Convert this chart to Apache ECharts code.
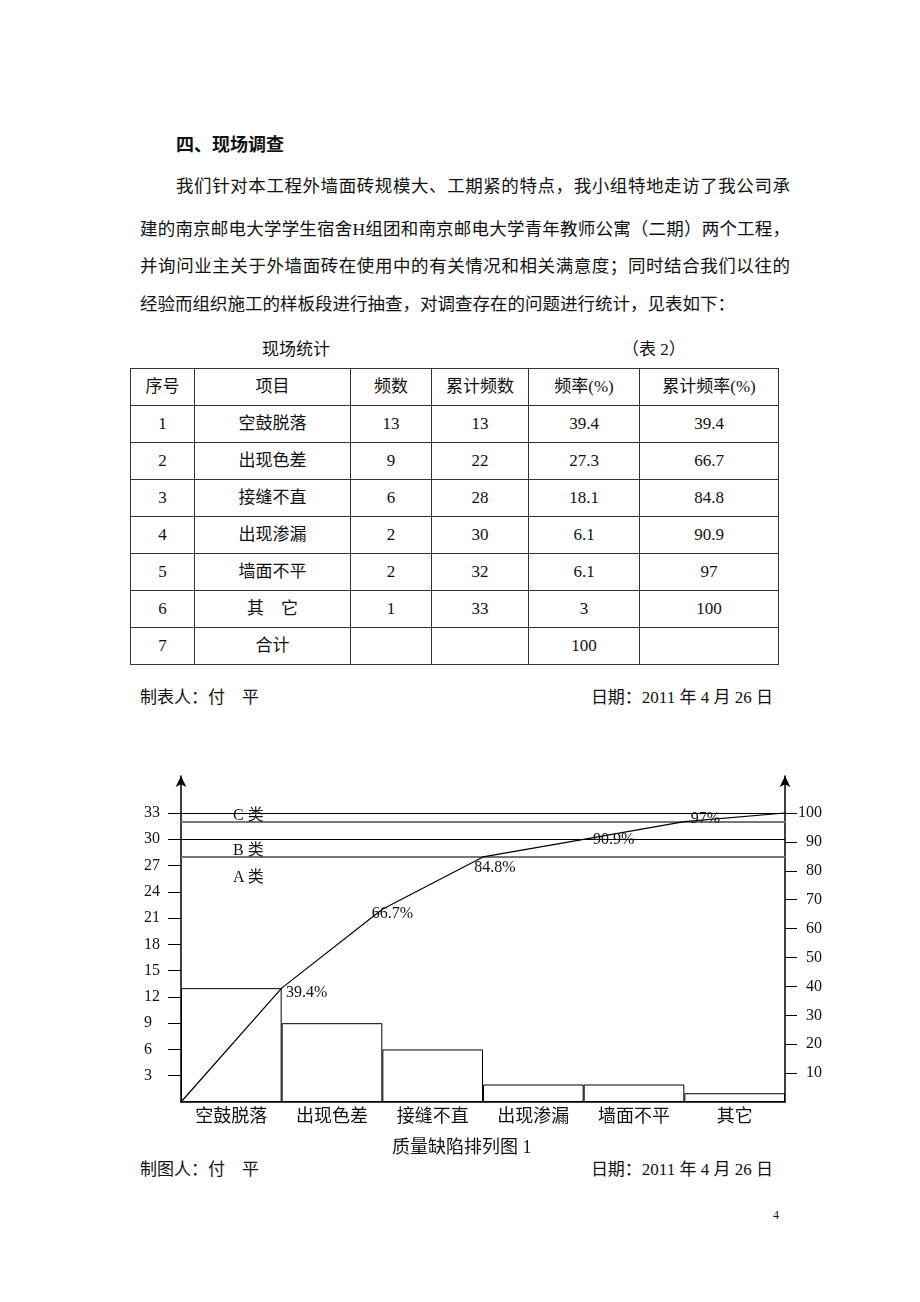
<!DOCTYPE html>
<html>
<head>
<meta charset="utf-8">
<script src="https://cdn.jsdelivr.net/npm/echarts@6/dist/echarts.min.js"></script>
<style>
  html, body { margin:0; padding:0; background:#fff; }
  body { width:920px; height:1302px; position:relative; overflow:hidden;
         font-family:"Liberation Serif","Times New Roman","Noto Sans CJK SC",serif; color:#111; }
  .t { position:absolute; font-size:18px; line-height:22px; white-space:nowrap; }
  .j { text-align:justify; text-align-last:justify; white-space:normal; font-size:17.5px; }
  #tbl { position:absolute; left:130px; top:368px; border-collapse:collapse; table-layout:fixed; }
  #tbl td { border:1px solid #333; height:36px; padding:0; text-align:center; font-size:17px; line-height:20px; }
  #chart { position:absolute; left:0; top:740px; width:920px; height:400px; }
  .ov { position:absolute; font-size:16px; line-height:18px; z-index:5; white-space:nowrap; }
</style>
</head>
<body>
<div class="t" style="left:176px; top:134px; font-weight:bold;">四、现场调查</div>
<div class="t j" style="left:176px; top:175px; width:614px;">我们针对本工程外墙面砖规模大、工期紧的特点，我小组特地走访了我公司承</div>
<div class="t j" style="left:140px; top:218px; width:650px;">建的南京邮电大学学生宿舍H组团和南京邮电大学青年教师公寓（二期）两个工程，</div>
<div class="t j" style="left:140px; top:255px; width:650px;">并询问业主关于外墙面砖在使用中的有关情况和相关满意度；同时结合我们以往的</div>
<div class="t" style="left:140px; top:293px; font-size:17.5px;">经验而组织施工的样板段进行抽查，对调查存在的问题进行统计，见表如下：</div>

<div class="t" style="left:262px; top:339px; font-size:17px;">现场统计</div>
<div class="t" style="left:622px; top:339px; font-size:17px;">（表 2）</div>
<table id="tbl"></table>

<div class="t" style="left:140px; top:687px; font-size:17px;">制表人：付　平</div>
<div class="t" style="right:147px; top:687px; font-size:17px;">日期：2011 年 4 月 26 日</div>

<div id="chart"></div>
<div class="ov" style="left:233px; top:806px;">C 类</div>
<div class="ov" style="left:233px; top:841px;">B 类</div>
<div class="ov" style="left:233px; top:868px;">A 类</div>

<div class="t" style="left:392px; top:1136px; font-size:18px;">质量缺陷排列图 1</div>
<div class="t" style="left:140px; top:1159px; font-size:17px;">制图人：付　平</div>
<div class="t" style="right:147px; top:1159px; font-size:17px;">日期：2011 年 4 月 26 日</div>

<div class="t" style="left:773px; top:1208px; font-size:12px; line-height:14px;">4</div>

<script>
// ---- data ----
const headers = ['序号', '项目', '频数', '累计频数', '频率(%)', '累计频率(%)'];
const tableItems = ['空鼓脱落', '出现色差', '接缝不直', '出现渗漏', '墙面不平', '其　它', '合计'];
const tableFreq = ['13', '9', '6', '2', '2', '1', ''];
const tableCumFreq = ['13', '22', '28', '30', '32', '33', ''];
const tablePct = ['39.4', '27.3', '18.1', '6.1', '6.1', '3', '100'];
const tableCumPct = ['39.4', '66.7', '84.8', '90.9', '97', '100', ''];

const categories = ['空鼓脱落', '出现色差', '接缝不直', '出现渗漏', '墙面不平', '其它'];
const freq = [13, 9, 6, 2, 2, 1];
const cumPct = [0, 39.4, 66.7, 84.8, 90.9, 97, 100];
const leftTicks = [3, 6, 9, 12, 15, 18, 21, 24, 27, 30, 33];
const rightTicks = [10, 20, 30, 40, 50, 60, 70, 80, 90, 100];
const classLines = [84.8, 90.9, 97, 100];

// ---- table ----
const colW = [64, 156, 81, 97, 111, 139];
const tbl = document.getElementById('tbl');
let html = '<colgroup>' + colW.map(w => '<col style="width:' + w + 'px">').join('') + '</colgroup>';
html += '<tr>' + headers.map(h => '<td>' + h + '</td>').join('') + '</tr>';
for (let i = 0; i < tableItems.length; i++) {
  html += '<tr><td>' + (i + 1) + '</td><td>' + tableItems[i] + '</td><td>' + tableFreq[i] +
    '</td><td>' + tableCumFreq[i] + '</td><td>' + tablePct[i] + '</td><td>' + tableCumPct[i] + '</td></tr>';
}
tbl.innerHTML = html;

// ---- chart ----
const FONT = '"Liberation Serif","Times New Roman","Noto Sans CJK SC",serif';
const labelOffsets = [[0,0],[25,5],[10,5],[12,11],[30,0],[21,-3],[0,0]];
const chart = echarts.init(document.getElementById('chart'), null, {renderer: 'canvas'});
const lineColors = ['#777', '#000', '#777', '#000'];
const lineWidths = [2, 1, 2, 1];

chart.setOption({
  animation: false,
  textStyle: { fontFamily: FONT },
  grid: { left: 181, right: 135, top: 36, bottom: 38 },
  xAxis: [
    { type: 'category', data: categories, boundaryGap: true,
      axisLine: { lineStyle: { color: '#000', width: 1.5 } },
      axisTick: { show: false },
      axisLabel: { color: '#111', fontSize: 18, margin: 6, fontFamily: FONT } },
    { type: 'value', min: 0, max: categories.length, show: false }
  ],
  yAxis: [
    { type: 'value', position: 'left', min: 0, max: 33 * 326 / 289,
      splitLine: { show: false },
      axisLine: { show: true, lineStyle: { color: '#000', width: 1.5 },
                  symbol: ['none', 'arrow'], symbolSize: [8, 11] },
      axisTick: { show: true, length: 13, customValues: leftTicks, lineStyle: { color: '#000', width: 1 } },
      axisLabel: { customValues: leftTicks, align: 'left', margin: 37, color: '#111', fontSize: 16, fontFamily: FONT } },
    { type: 'value', position: 'right', min: 0, max: 100 * 326 / 289,
      splitLine: { show: false },
      axisLine: { show: true, lineStyle: { color: '#000', width: 1.5 },
                  symbol: ['none', 'arrow'], symbolSize: [8, 11] },
      axisTick: { show: true, length: 12, customValues: rightTicks, lineStyle: { color: '#000', width: 1 } },
      axisLabel: { customValues: rightTicks, align: 'right', margin: 37, color: '#111', fontSize: 16, fontFamily: FONT } }
  ],
  series: [
    { type: 'bar', xAxisIndex: 0, yAxisIndex: 0, data: freq,
      barWidth: '100%', barCategoryGap: 0, silent: true,
      itemStyle: { color: '#fff', borderColor: '#000', borderWidth: 1 } },
    { type: 'line', xAxisIndex: 1, yAxisIndex: 1,
      data: cumPct.map((v, i) => [i, v]),
      symbol: 'circle', symbolSize: 1, showSymbol: true, silent: true, z: 5,
      lineStyle: { color: '#000', width: 1.2 },
      itemStyle: { color: '#000' },
      label: { show: true, position: 'inside', color: '#111', fontSize: 16, fontFamily: FONT,
               formatter: p => (p.dataIndex === 0 || p.dataIndex === cumPct.length - 1) ? '' : p.value[1] + '%' },
      labelLayout: p => ({ dx: labelOffsets[p.dataIndex][0], dy: labelOffsets[p.dataIndex][1] }),
      markLine: { silent: true, symbol: ['none', 'none'], label: { show: false },
        data: classLines.map((v, i) => ({ yAxis: v, lineStyle: { color: lineColors[i], width: lineWidths[i], type: 'solid' } })) } }
  ]
});
</script>
</body>
</html>
